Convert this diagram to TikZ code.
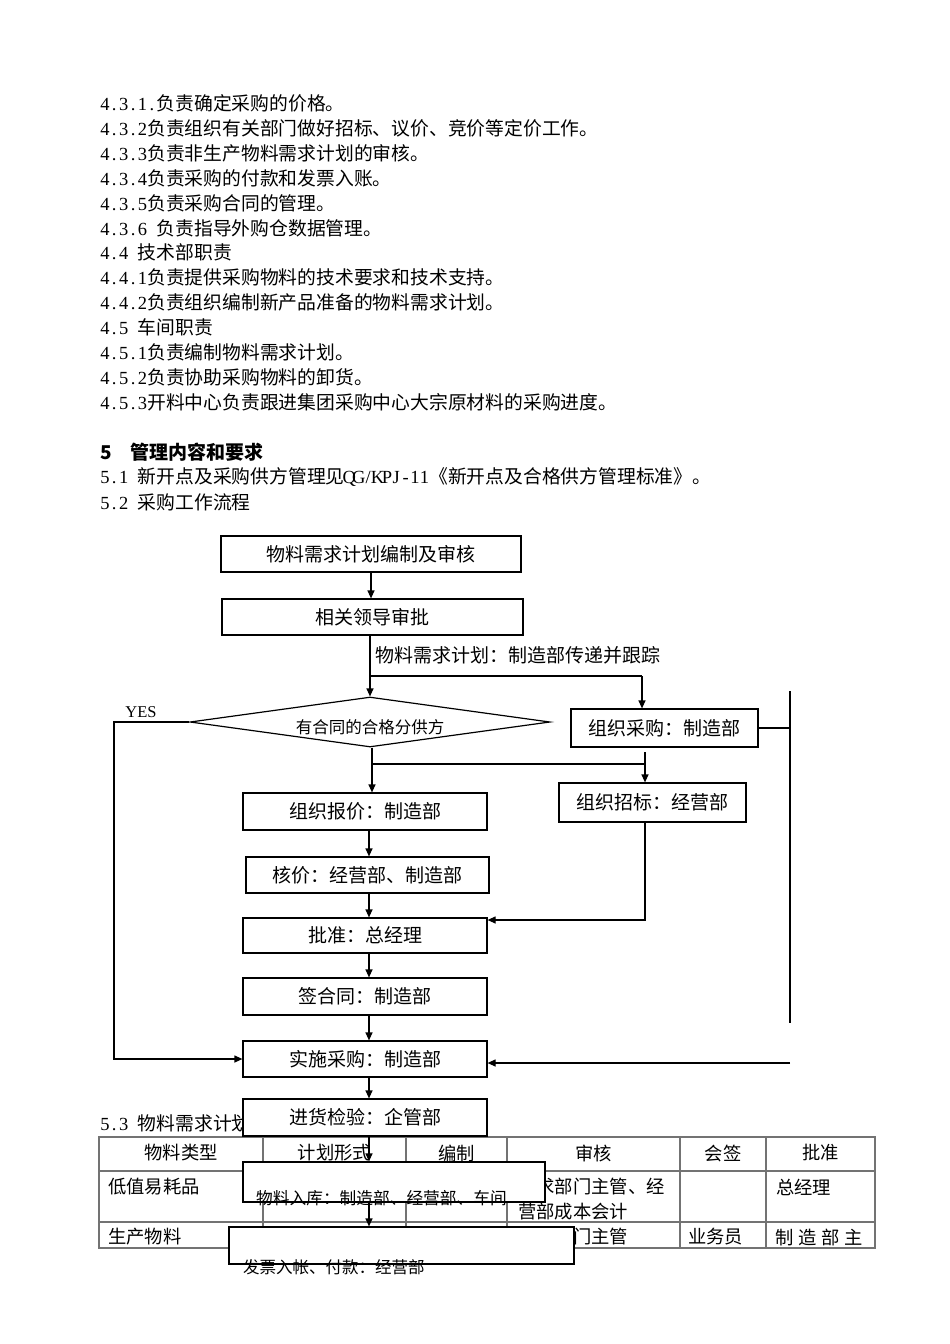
\documentclass[tikz,border=0pt]{standalone}
\usepackage{fontspec}
\setmainfont{Noto Sans CJK SC}
\newfontfamily\latinfont{Liberation Serif}
\usepackage{xcolor}
\usepackage{tikz}
\usetikzlibrary{positioning,shapes.geometric,arrows.meta}
\definecolor{rulegray}{gray}{0.45}
% half-width latin characters, one cell each
\newcommand{\hw}[1]{\hwnext#1\relax}
\newcommand{\hwnext}[1]{\ifx\relax#1\else\makebox[9.4pt]{\latinfont\fontsize{18.5}{20}\selectfont#1}\expandafter\hwnext\fi}

\begin{document}
\begin{tikzpicture}
            [
            x=1pt,y=-1pt,
            body/.style={anchor=west,inner sep=0pt,font=\fontsize{18.8}{22}\selectfont},
            cell/.style={inner sep=0pt,font=\fontsize{18.3}{22}\selectfont},
            flowbox/.style={draw,line width=1.2pt,fill=white,inner sep=0pt,font=\fontsize{19}{22}\selectfont},
            decision/.style={diamond,aspect=7.2,draw,line width=1.2pt,fill=white,inner sep=0pt,minimum width=360pt,minimum height=50pt,text height=24pt,text depth=2pt,font=\fontsize{16.5}{20}\selectfont},
            link/.style={line width=1.2pt},
            arrow/.style={line width=1.2pt,-{Triangle[length=8pt,width=7pt]}},
            tablerule/.style={draw=rulegray,line width=1.2pt}
            ]
        \fill[white] (0,0) rectangle (950,1344);
        \path[use as bounding box] (0,0) rectangle (950,1344);
        % text of the page
        \node[body] (l431) at (100,103) {\hw{4.3.1.}负责确定采购的价格。};
        \node[body] (l432) at (100,128) {\hw{4.3.2}负责组织有关部门做好招标、议价、竞价等定价工作。};
        \node[body] (l433) at (100,153) {\hw{4.3.3}负责非生产物料需求计划的审核。};
        \node[body] (l434) at (100,178) {\hw{4.3.4}负责采购的付款和发票入账。};
        \node[body] (l435) at (100,203) {\hw{4.3.5}负责采购合同的管理。};
        \node[body] (l436) at (100,228) {\hw{4.3.6}\hspace{9.4pt}负责指导外购仓数据管理。};
        \node[body] (l44) at (100,252) {\hw{4.4}\hspace{9.4pt}技术部职责};
        \node[body] (l441) at (100,277) {\hw{4.4.1}负责提供采购物料的技术要求和技术支持。};
        \node[body] (l442) at (100,302) {\hw{4.4.2}负责组织编制新产品准备的物料需求计划。};
        \node[body] (l45) at (100,327) {\hw{4.5}\hspace{9.4pt}车间职责};
        \node[body] (l451) at (100,352) {\hw{4.5.1}负责编制物料需求计划。};
        \node[body] (l452) at (100,377) {\hw{4.5.2}负责协助采购物料的卸货。};
        \node[body] (l453) at (100,402) {\hw{4.5.3}开料中心负责跟进集团采购中心大宗原材料的采购进度。};
        \node[body,font=\bfseries\fontsize{19}{22}\selectfont] (sec5) at (100,452) {5\hspace{18.5pt}管理内容和要求};
        \node[body] (sec51) at (100,477) {\hw{5.1}\hspace{9.4pt}新开点及采购供方管理见\hw{QG/KPJ-11}《新开点及合格供方管理标准》。};
        \node[body] (sec52) at (100,502) {\hw{5.2}\hspace{9.4pt}采购工作流程};
        \node[body] (sec53) at (100,1123) {\hw{5.3}\hspace{9.4pt}物料需求计划};
        % table
        \draw[tablerule] (99,1137) rectangle (875,1248);
        \draw[tablerule] (99,1171) -- (875,1171);
        \draw[tablerule] (99,1222) -- (875,1222);
        \draw[tablerule] (263,1137) -- (263,1248);
        \draw[tablerule] (406,1137) -- (406,1248);
        \draw[tablerule] (507,1137) -- (507,1248);
        \draw[tablerule] (680,1137) -- (680,1248);
        \draw[tablerule] (766,1137) -- (766,1248);
        \node[cell] (h1) at (181,1153) {物料类型};
        \node[cell] (h2) at (334.5,1153) {计划形式};
        \node[cell] (h3) at (456.5,1153) {编制};
        \node[cell] (h4) at (593.5,1153) {审核};
        \node[cell] (h5) at (723,1153) {会签};
        \node[cell] (h6) at (820.5,1153) {批准};
        \node[cell,anchor=west] (lowval) at (108,1187) {低值易耗品};
        \node[cell,anchor=west] (audit1) at (518,1187) {需求部门主管、经};
        \node[cell,anchor=west] (audit1b) at (518,1212) {营部成本会计};
        \node[cell,anchor=west] (gm) at (776,1187) {总经理};
        \node[cell,anchor=west] (prod) at (108,1237) {生产物料};
        \node[cell,anchor=west] (audit2) at (518,1237) {需求部门主管};
        \node[cell,anchor=west] (clerk) at (688,1237) {业务员};
        \node[cell,anchor=west] (mfg) at (775,1237) {制\hspace{4.7pt}造\hspace{4.7pt}部\hspace{4.7pt}主};
        % flow chart
        \node[flowbox,minimum width=300pt,minimum height=36pt] (plan) at (371,554) {物料需求计划编制及审核};
        \node[flowbox,minimum width=301pt,minimum height=36pt] (approve) at (372.5,617) {相关领导审批};
        \node[decision] (supplier) at (370,722) {有合同的合格分供方};
        \node[flowbox,minimum width=187pt,minimum height=38pt] (orgbuy) at (664.5,728) {组织采购：制造部};
        \node[flowbox,minimum width=187pt,minimum height=39pt] (tender) at (652.5,802.5) {组织招标：经营部};
        \node[flowbox,minimum width=244pt,minimum height=37pt] (quote) at (365,811.5) {组织报价：制造部};
        \node[flowbox,minimum width=243pt,minimum height=36pt] (check) at (367.5,875) {核价：经营部、制造部};
        \node[flowbox,minimum width=244pt,minimum height=35pt] (ratify) at (365,935.5) {批准：总经理};
        \node[flowbox,minimum width=244pt,minimum height=37pt] (sign) at (365,996.5) {签合同：制造部};
        \node[flowbox,minimum width=244pt,minimum height=36pt] (exec) at (365,1059) {实施采购：制造部};
        \node[flowbox,minimum width=244pt,minimum height=37pt] (inspect) at (365,1117.5) {进货检验：企管部};
        \node[flowbox,minimum width=302pt,minimum height=40pt] (store) at (394,1182) {};
        \node[flowbox,minimum width=345pt,minimum height=37pt] (invoice) at (401.5,1245.5) {};
        \coordinate (maincol) at (369,0);
        \coordinate (fork1) at (370,676);
        \coordinate (fork1end) at (642,676);
        \coordinate (fork2) at (372,764);
        \coordinate (tendercol) at (645,752);
        \coordinate (tenderfoot) at (645,920);
        \coordinate (yesline) at (114,0);
        \coordinate (railtop) at (790,691);
        \coordinate (railbot) at (790,1023);
        \coordinate (railfoot) at (790,1063);
        \draw[arrow] (plan.south) -- (plan.south |- approve.north);
        \draw[arrow] (approve.south -| fork1) -- (supplier.north -| fork1);
        \node[body,font=\fontsize{19}{22}\selectfont] (tracklabel) at (375,655) {物料需求计划：制造部传递并跟踪};
        \draw[link] (fork1) -- (fork1end);
        \draw[arrow] (fork1end) -- (fork1end |- orgbuy.north);
        \draw[arrow] (supplier.west) -- (supplier.west -| yesline) |- (exec.west);
        \node[inner sep=0pt,font=\latinfont\fontsize{16.5}{20}\selectfont] (yes) at (141,712) {YES};
        \draw[arrow] (fork2 |- supplier.south) -- (fork2 |- quote.north);
        \draw[link] (fork2) -- (fork2 -| tendercol);
        \draw[arrow] (tendercol) -- (tendercol |- tender.north);
        \draw[arrow] (tendercol |- tender.south) -- (tenderfoot) -- (tenderfoot -| ratify.east);
        \draw[link] (orgbuy.east) -- (orgbuy.east -| railtop);
        \draw[link] (railtop) -- (railbot);
        \draw[arrow] (railfoot) -- (railfoot -| exec.east);
        \draw[arrow] (quote.south -| maincol) -- (check.north -| maincol);
        \draw[arrow] (check.south -| maincol) -- (ratify.north -| maincol);
        \draw[arrow] (ratify.south -| maincol) -- (sign.north -| maincol);
        \draw[arrow] (sign.south -| maincol) -- (exec.north -| maincol);
        \draw[arrow] (exec.south -| maincol) -- (inspect.north -| maincol);
        \draw[arrow] (inspect.south -| maincol) -- (store.north -| maincol);
        \draw[arrow] (store.south -| maincol) -- (invoice.north -| maincol);
        \node[anchor=west,inner sep=0pt,font=\fontsize{16.7}{20}\selectfont] (storetext) at (256,1198) {物料入库：制造部、经营部、车间};
        \node[anchor=west,inner sep=0pt,font=\fontsize{16.5}{20}\selectfont] (invoicetext) at (243,1267) {发票入帐、付款：经营部};
        \end{tikzpicture}
\end{document}
